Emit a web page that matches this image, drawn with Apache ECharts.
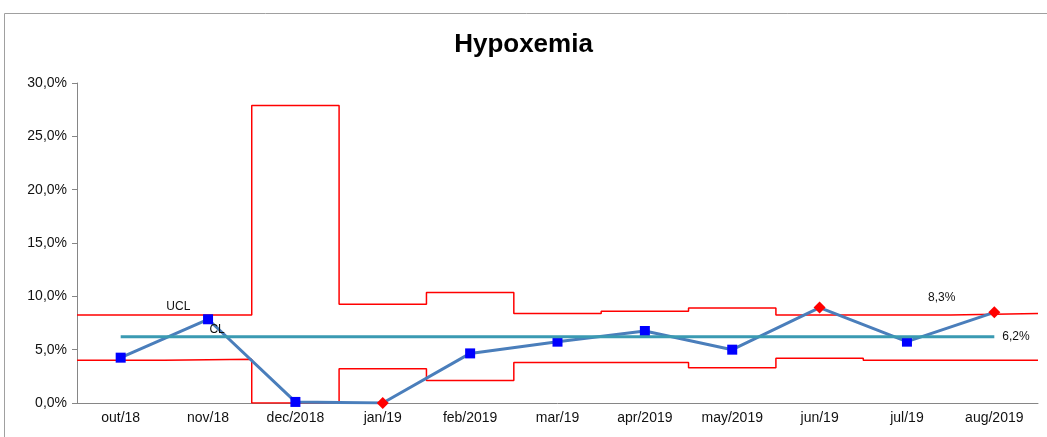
<!DOCTYPE html>
<html>
<head>
<meta charset="utf-8">
<title>Hypoxemia</title>
<script src="https://cdn.jsdelivr.net/npm/echarts@6/dist/echarts.min.js"></script>
<style>
  html, body { margin: 0; padding: 0; background: #fff; }
  #chart { width: 1047px; height: 437px; }
</style>
</head>
<body>
<div id="chart"></div>
<script>
// months on the x axis
const categories = ['out/18', 'nov/18', 'dec/2018', 'jan/19', 'feb/2019', 'mar/19',
  'apr/2019', 'may/2019', 'jun/19', 'jul/19', 'aug/2019'];
// monthly hypoxemia rate (%)
const rates = [4.25, 7.85, 0.1, 0, 4.65, 5.75, 6.75, 5.0, 8.95, 5.75, 8.5];
// control limits (%)
const ucl = [8.25, 8.25, 27.9, 9.25, 10.35, 8.4, 8.6, 8.9, 8.25, 8.25, 8.4];
const lcl = [4.0, 4.1, 0, 3.2, 2.1, 3.8, 3.8, 3.3, 4.2, 4.0, 4.0];
const centerLine = 6.2;
// y axis ticks
const yMin = 0, yMax = 30, yStep = 5;

const FONT = '"Liberation Sans", Arial, sans-serif';

const pct = (v) => v.toFixed(1).replace('.', ',') + '%';

// step points: each limit holds over its whole month
const stepPoints = (arr) =>
  arr.map((v, i) => [i, v]).concat([[arr.length, arr[arr.length - 1]]]);

const uclLabelIdx = { 1: 'UCL', 10: '8,3%' };

const chart = echarts.init(document.getElementById('chart'));

// line labels need a symbol, so keep an invisible one
const hiddenSymbol = {
  symbol: 'circle',
  symbolSize: 1,
  showSymbol: true,
  itemStyle: { color: 'rgba(0,0,0,0)' },
};

const option = {
  animation: false,
  backgroundColor: '#fff',
  title: {
    text: 'Hypoxemia',
    left: 'center',
    top: 27,
    textStyle: { fontFamily: FONT, fontSize: 26, fontWeight: 'bold', color: '#000' },
  },
  graphic: [
    {
      type: 'rect',
      shape: { x: 4.5, y: 13.5, width: 1200, height: 600 },
      style: { fill: 'none', stroke: '#a0a0a0', lineWidth: 1 },
      silent: true,
    },
  ],
  grid: { left: 77, right: 9, top: 83, bottom: 34 },
  xAxis: [
    {
      type: 'category',
      data: categories,
      boundaryGap: true,
      axisLine: { lineStyle: { color: '#868686', width: 1 } },
      axisTick: { interval: 0, length: 5, lineStyle: { color: '#868686' } },
      axisLabel: { interval: 0, fontFamily: FONT, fontSize: 14, color: '#111', margin: 8 },
      splitLine: { show: false },
    },
    {
      type: 'value',
      min: 0,
      max: categories.length,
      show: false,
      splitLine: { show: false },
    },
  ],
  yAxis: {
    type: 'value',
    min: yMin,
    max: yMax,
    interval: yStep,
    axisLine: { show: true, lineStyle: { color: '#868686', width: 1 } },
    axisTick: { show: true, length: 5, lineStyle: { color: '#868686' } },
    axisLabel: { fontFamily: FONT, fontSize: 14, color: '#111', margin: 10, formatter: pct },
    splitLine: { show: false },
  },
  series: [
    {
      name: 'LCL',
      type: 'line',
      xAxisIndex: 1,
      step: 'end',
      data: stepPoints(lcl),
      symbol: 'none',
      lineStyle: { color: '#ff0000', width: 1.5 },
      z: 2,
    },
    Object.assign({
      name: 'UCL',
      type: 'line',
      xAxisIndex: 1,
      step: 'end',
      data: stepPoints(ucl),
      lineStyle: { color: '#ff0000', width: 1.5 },
      label: {
        show: true,
        position: 'top',
        fontFamily: FONT,
        fontSize: 12,
        color: '#111',
        formatter: (p) => uclLabelIdx[p.dataIndex] || '',
      },
      labelLayout: (p) => (p.dataIndex === 1 ? { dx: 14, dy: 3 } : { dx: -9, dy: -4 }),
      z: 2,
    }, hiddenSymbol),
    {
      name: 'Hypoxemia',
      type: 'line',
      data: rates.map((v, i) => {
        const out = v > ucl[i] || v < lcl[i];
        return {
          value: v,
          symbol: out ? 'diamond' : 'rect',
          symbolSize: out ? 12 : 10,
          itemStyle: { color: out ? '#ff0000' : '#0000ff' },
        };
      }),
      lineStyle: { color: '#4a7ebb', width: 3 },
      z: 4,
    },
    Object.assign({
      name: 'CL',
      type: 'line',
      data: categories.map(() => centerLine),
      lineStyle: { color: '#3a9ab2', width: 3 },
      label: {
        show: true,
        fontFamily: FONT,
        fontSize: 12,
        color: '#111',
        position: 'top',
        formatter: (p) => (p.dataIndex === 1 ? 'CL' : ''),
        offset: [9, 4],
      },
      endLabel: {
        show: true,
        fontFamily: FONT,
        fontSize: 12,
        color: '#111',
        distance: 8,
        formatter: () => pct(centerLine),
      },
      z: 5,
    }, hiddenSymbol),
  ],
};

chart.setOption(option);
</script>
</body>
</html>
